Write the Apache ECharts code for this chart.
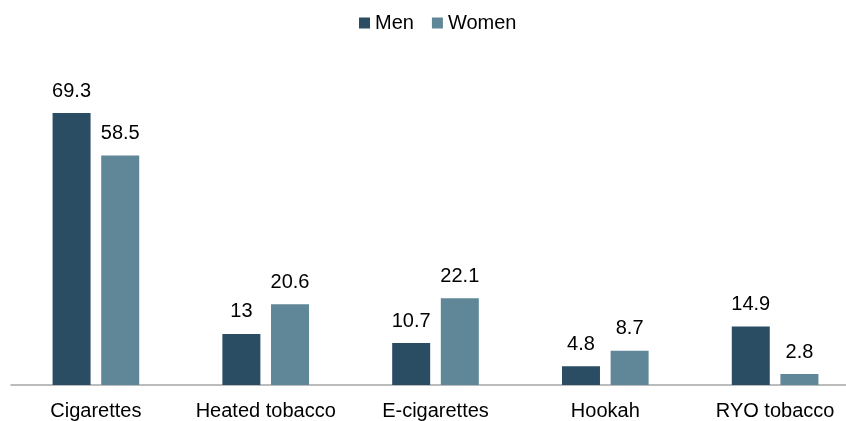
<!DOCTYPE html>
<html>
<head>
<meta charset="utf-8">
<script src="https://cdn.jsdelivr.net/npm/echarts@6/dist/echarts.min.js"></script>
<style>
  html, body { margin: 0; padding: 0; background: #fff; }
  #chart { width: 846px; height: 421px; }
</style>
</head>
<body>
<div id="chart"></div>
<script>
// data
const categories = ['Cigarettes', 'Heated tobacco', 'E-cigarettes', 'Hookah', 'RYO tobacco'];
const men = [69.3, 13, 10.7, 4.8, 14.9];
const women = [58.5, 20.6, 22.1, 8.7, 2.8];

const font = 'Liberation Sans, Arial, sans-serif';

const chart = echarts.init(document.getElementById('chart'));
chart.setOption({
    backgroundColor: '#fff',
    animation: false,
    legend: {
        top: 13,
        left: 359,
        padding: 0,
        itemWidth: 11,
        itemHeight: 11,
        itemGap: 18,
        icon: 'rect',
        textStyle: { fontFamily: font, fontSize: 20, color: '#000' }
    },
    grid: { left: 11, right: -14, top: 71, bottom: 36, outerBoundsMode: 'none', containLabel: false },
    xAxis: {
        type: 'category',
        data: categories,
        axisLine: { lineStyle: { color: '#a6a6a6', width: 1.5 } },
        axisTick: { show: false },
        axisLabel: { fontFamily: font, fontSize: 20, color: '#000', margin: 16, interval: 0, hideOverlap: false }
    },
    yAxis: {
        type: 'value',
        min: 0,
        max: 80,
        show: false
    },
    series: [
        {
            name: 'Men',
            type: 'bar',
            data: men,
            barWidth: 38,
            barGap: '28%',
            itemStyle: { color: '#2b4d63' },
            label: { show: true, position: 'top', distance: 12, fontFamily: font, fontSize: 20, color: '#000' }
        },
        {
            name: 'Women',
            type: 'bar',
            data: women,
            barWidth: 38,
            itemStyle: { color: '#5f8797' },
            label: { show: true, position: 'top', distance: 12, fontFamily: font, fontSize: 20, color: '#000' }
        }
    ]
});
</script>
</body>
</html>
